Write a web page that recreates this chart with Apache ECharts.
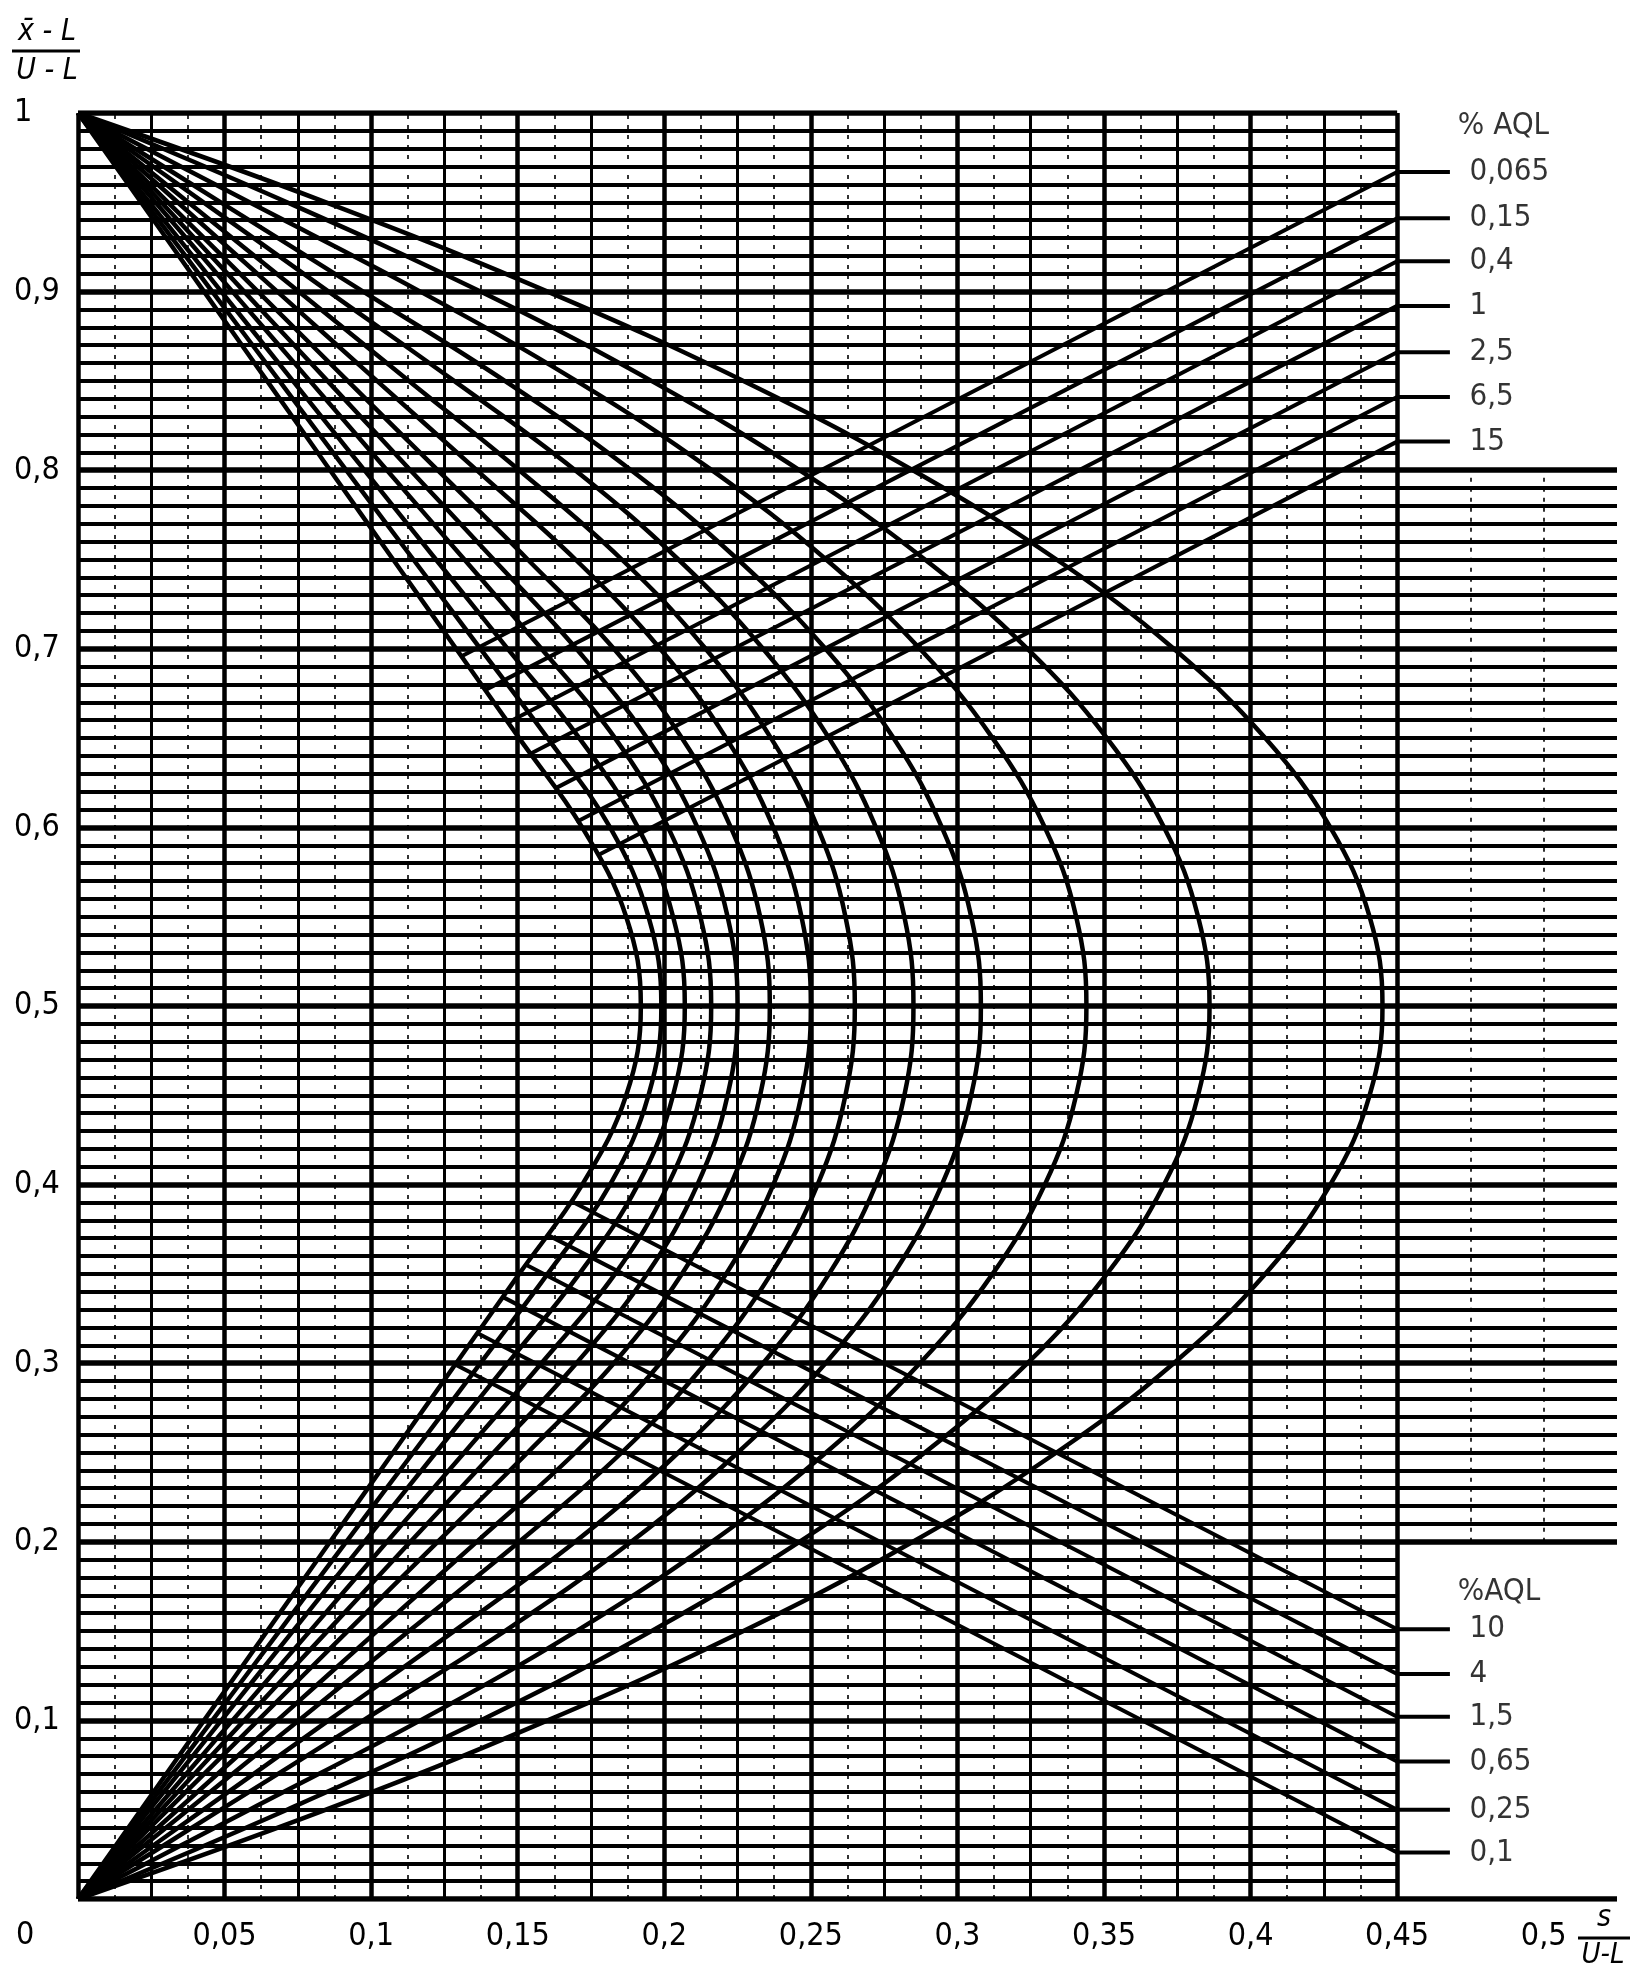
<!DOCTYPE html>
<html><head><meta charset="utf-8">
<script src="https://cdn.jsdelivr.net/npm/echarts/dist/echarts.min.js"></script>
<style>html,body{margin:0;padding:0;background:#fff}#c{width:1639px;height:1968px}</style>
</head><body><div id="c"></div>
<script>
// ---- data ----
const curveAQL = ['0,065','0,1','0,15','0,25','0,4','0,65','1','1,5','2,5','4','6,5','10','15'];
const curveY = [1,0.95,0.9,0.85,0.8,0.75,0.7,0.65,0.6,0.55,0.5,0.45,0.4,0.35,0.3,0.25,0.2,0.15,0.1,0.05,0];
const sAQL0065 = [0,.0215,.043,.0645,.086,.1075,.129,.1505,.172,.187,.192,.187,.172,.1505,.129,.1075,.086,.0645,.043,.0215,0];
const sAQL01   = [0,.0229,.0458,.0687,.0915,.1144,.1373,.1602,.1815,.1946,.199,.1946,.1815,.1602,.1373,.1144,.0915,.0687,.0458,.0229,0];
const sAQL015  = [0,.0244,.0489,.0733,.0977,.1221,.1466,.171,.191,.203,.207,.203,.191,.171,.1466,.1221,.0977,.0733,.0489,.0244,0];
const sAQL025  = [0,.0264,.0527,.0791,.1054,.1318,.1581,.1832,.2013,.2123,.216,.2123,.2013,.1832,.1581,.1318,.1054,.0791,.0527,.0264,0];
const sAQL04   = [0,.0284,.0567,.0851,.1134,.1418,.170,.1941,.2113,.2216,.225,.2216,.2113,.1941,.170,.1418,.1134,.0851,.0567,.0284,0];
const sAQL065  = [0,.0307,.0614,.092,.1227,.1534,.1828,.206,.2227,.2327,.236,.2327,.2227,.206,.1828,.1534,.1227,.092,.0614,.0307,0];
const sAQL1    = [0,.034,.068,.102,.136,.1697,.1986,.2211,.2372,.2468,.25,.2468,.2372,.2211,.1986,.1697,.136,.102,.068,.034,0];
const sAQL15   = [0,.0376,.0753,.1129,.1505,.1855,.2141,.2364,.2523,.2618,.265,.2618,.2523,.2364,.2141,.1855,.1505,.1129,.0753,.0376,0];
const sAQL25   = [0,.0428,.0855,.1283,.1696,.2048,.2337,.2562,.2722,.2819,.285,.2819,.2722,.2562,.2337,.2048,.1696,.1283,.0855,.0428,0];
const sAQL4    = [0,.0487,.0973,.1456,.1887,.2251,.255,.2782,.2947,.3047,.308,.3047,.2947,.2782,.255,.2251,.1887,.1456,.0973,.0487,0];
const sAQL65   = [0,.0585,.1168,.17,.2162,.2552,.2872,.312,.3298,.3405,.344,.3405,.3298,.312,.2872,.2552,.2162,.17,.1168,.0585,0];
const sAQL10   = [0,.0713,.1373,.1956,.2461,.2889,.3239,.351,.3705,.3821,.386,.3821,.3705,.351,.3239,.2889,.2461,.1956,.1373,.0713,0];
const sAQL15p  = [0,.0846,.1602,.227,.2848,.3338,.3738,.405,.4272,.4406,.445,.4406,.4272,.405,.3738,.3338,.2848,.227,.1602,.0846,0];
const curveS = [sAQL0065,sAQL01,sAQL015,sAQL025,sAQL04,sAQL065,sAQL1,sAQL15,sAQL25,sAQL4,sAQL65,sAQL10,sAQL15p];

// label lines: start point on the innermost curve, end at the right edge
const risingAQL   = ['0,065','0,15','0,4','1','2,5','6,5','15'];
const risingStart = [[0.131,0.696],[0.139,0.677],[0.147,0.659],[0.154,0.641],[0.163,0.622],[0.170,0.603],[0.178,0.585]];
const risingEndY  = [0.967,0.941,0.917,0.892,0.866,0.841,0.816];
const fallingAQL   = ['10','4','1,5','0,65','0,25','0,1'];
const fallingStart = [[0.168,0.391],[0.160,0.372],[0.153,0.355],[0.145,0.337],[0.136,0.317],[0.129,0.299]];
const fallingEndY  = [0.151,0.126,0.102,0.077,0.050,0.026];
const lineEndX = 0.45;
const labelX = 0.474;
const headerTopY = 0.993, headerBottomY = 0.172;

// ---- build ----
const FONT = "'Liberation Sans Narrow','DejaVu Sans Condensed','Arial Narrow',sans-serif";
const K = '#000';
const hThin = [], hHeavy = [], vThin = [], vHeavy = [], vDot = [];
for (let i = 0; i <= 100; i++) {
  const y = i / 100;
  const xe = (i === 0 || (i >= 20 && i <= 80)) ? 0.525 : 0.45;
  (i % 10 === 0 ? hHeavy : hThin).push({coords: [[0, y], [xe, y]]});
}
for (let k = 0; k <= 18; k++) {
  const x = k * 0.025;
  (k % 2 === 0 ? vHeavy : vThin).push({coords: [[x, 0], [x, 1]]});
}
for (let k = 0; k < 18; k++) {
  const x = 0.0125 + k * 0.025;
  vDot.push({coords: [[x, 0], [x, 1]]});
}
vDot.push({coords: [[0.475, 0.2], [0.475, 0.8]]});
vDot.push({coords: [[0.5, 0.2], [0.5, 0.8]]});

const series = [
  {type:'lines', coordinateSystem:'cartesian2d', silent:true, z:1, data:vDot,
   lineStyle:{color:K, width:1.6, type:[4,6], opacity:1}},
  {type:'lines', coordinateSystem:'cartesian2d', silent:true, z:2, data:vThin,
   lineStyle:{color:K, width:3, opacity:1}},
  {type:'lines', coordinateSystem:'cartesian2d', silent:true, z:2, data:vHeavy,
   lineStyle:{color:K, width:4.5, opacity:1}},
  {type:'lines', coordinateSystem:'cartesian2d', silent:true, z:2, data:hThin,
   lineStyle:{color:K, width:3.8, opacity:1}},
  {type:'lines', coordinateSystem:'cartesian2d', silent:true, z:2, data:hHeavy,
   lineStyle:{color:K, width:5.5, opacity:1}}
];
curveS.forEach((s, i) => {
  series.push({type:'line', name:'AQL ' + curveAQL[i], z:5, symbol:'none', smooth:0.4,
    data: s.map((v, j) => [v, curveY[j]]), lineStyle:{color:K, width:4.5}, clip:false});
});
risingEndY.forEach((e, i) => {
  series.push({type:'line', name:'rise ' + risingAQL[i], z:5, symbol:'none',
    data:[risingStart[i],[lineEndX,e],[labelX-0.006,e]], lineStyle:{color:K, width:4}});
});
fallingEndY.forEach((e, i) => {
  series.push({type:'line', name:'fall ' + fallingAQL[i], z:5, symbol:'none',
    data:[fallingStart[i],[lineEndX,e],[labelX-0.006,e]], lineStyle:{color:K, width:4}});
});
const labelData = risingEndY.map((e,i)=>[labelX, e, risingAQL[i]])
  .concat(fallingEndY.map((e,i)=>[labelX, e, fallingAQL[i]]))
  .concat([[labelX-0.004, headerTopY, '% AQL'], [labelX-0.004, headerBottomY, '%AQL']]);
series.push({type:'scatter', z:6, symbolSize:0, data:labelData, silent:true,
  label:{show:true, position:'right', distance:2, formatter:p=>p.data[2],
    color:K, fontSize:31, fontFamily:FONT}});

const fmt = v => (Math.round(v*1000)/1000).toString().replace('.', ',');
const chart = echarts.init(document.getElementById('c'));
chart.setOption({
  animation:false,
  backgroundColor:'#fff',
  grid:{left:78, right:22, top:113, bottom:69},
  xAxis:{type:'value', min:0, max:0.525, interval:0.05,
    axisLine:{show:false}, axisTick:{show:false}, splitLine:{show:false},
    axisLabel:{margin:22, color:K, fontSize:32, fontFamily:FONT, showMinLabel:false, showMaxLabel:false,
      formatter:v => (v < 0.001 || v > 0.51) ? '' : fmt(v)}},
  yAxis:{type:'value', min:0, max:1, interval:0.1,
    axisLine:{show:false}, axisTick:{show:false}, splitLine:{show:false},
    axisLabel:{margin:64, align:'left', color:K, fontSize:32, fontFamily:FONT, showMinLabel:false,
      padding:[14,0,0,0], formatter:v => v < 0.001 ? '' : fmt(v)}},
  graphic:[
    {type:'text', left:16, top:1920, style:{text:'0', fontSize:32, fontFamily:FONT, fill:K}},
    {type:'text', x:47, y:32, style:{text:'x\u0304 - L', fontSize:30, fontStyle:'italic', fontFamily:FONT, fill:K, align:'center', verticalAlign:'middle'}},
    {type:'line', shape:{x1:12, y1:51, x2:80, y2:51}, style:{stroke:K, lineWidth:3}},
    {type:'text', x:47, y:71, style:{text:'U - L', fontSize:30, fontStyle:'italic', fontFamily:FONT, fill:K, align:'center', verticalAlign:'middle'}},
    {type:'text', x:1604, y:1918, style:{text:'s', fontSize:30, fontStyle:'italic', fontFamily:FONT, fill:K, align:'center', verticalAlign:'middle'}},
    {type:'line', shape:{x1:1578, y1:1938, x2:1630, y2:1938}, style:{stroke:K, lineWidth:3}},
    {type:'text', x:1603, y:1955, style:{text:'U-L', fontSize:29, fontStyle:'italic', fontFamily:FONT, fill:K, align:'center', verticalAlign:'middle'}}
  ],
  series:series
});
</script></body></html>
